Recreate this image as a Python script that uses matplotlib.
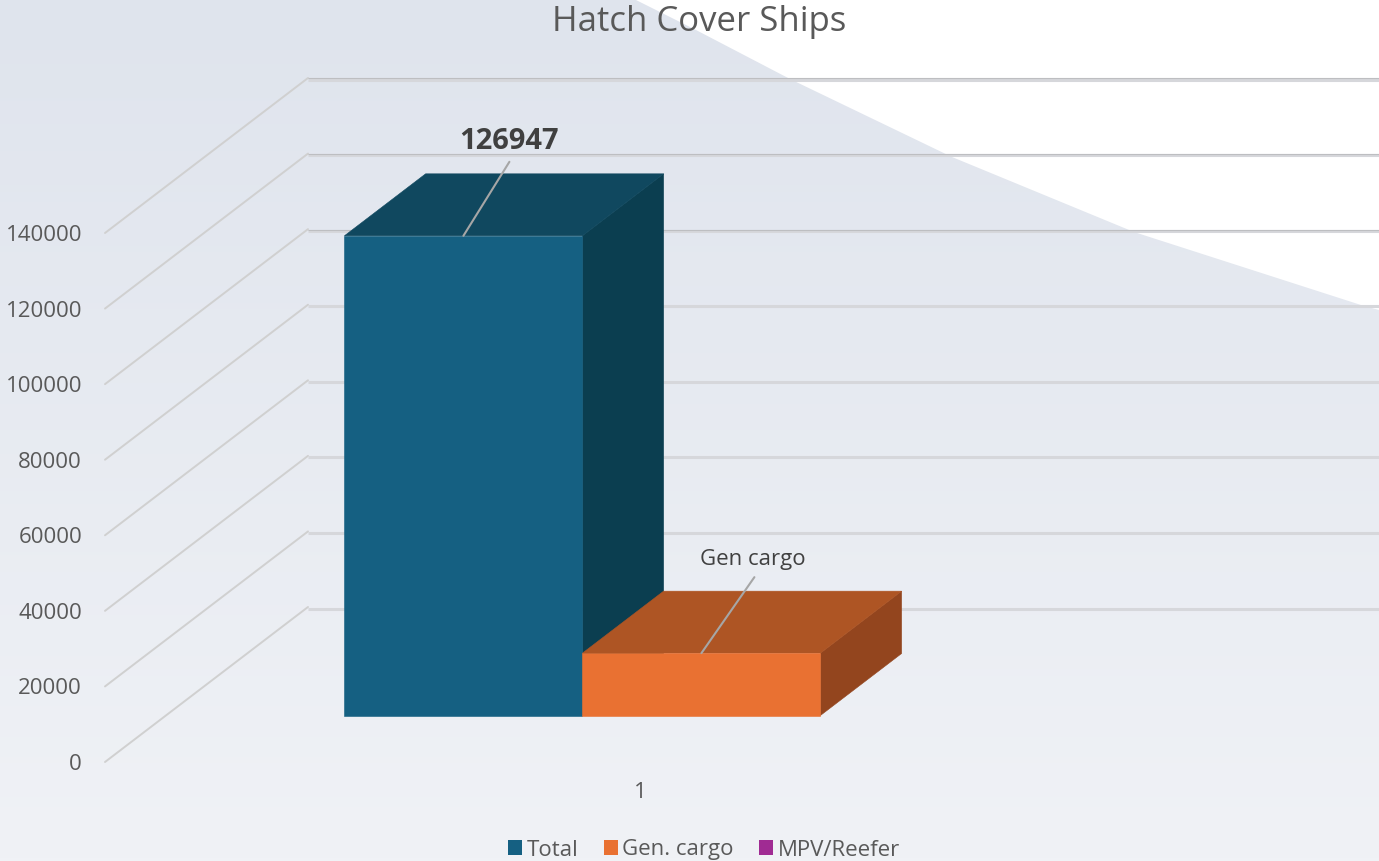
import numpy as np
import matplotlib
matplotlib.use("Agg")
import matplotlib.pyplot as plt
from matplotlib.patches import Polygon, Patch

title = "Hatch Cover Ships"
categories = [1]
series_names = ["Total", "Gen. cargo", "MPV/Reefer"]
series_values = [126947, 16500, None]
front_colors = ["#156082", "#E97132", "#A02B93"]
top_colors = ["#10485F", "#AE5524", "#78206E"]
side_colors = ["#0B3E50", "#93451E", "#601A58"]
data_labels = ["126947", "Gen cargo", None]
label_bold = [True, False, False]
value_ticks = [0, 20000, 40000, 60000, 80000, 100000, 120000, 140000]

W, H = 1379, 861
plt.rcParams["font.family"] = ["Open Sans", "DejaVu Sans"]
TXT = "#595959"

fig = plt.figure(figsize=(W / 100, H / 100), dpi=100, facecolor="white")

# decorative background
bg = fig.add_axes([0, 0, 1, 1], zorder=0)
bg.set_xlim(0, 1); bg.set_ylim(0, 1); bg.axis("off")
grad = np.linspace(0, 1, 256).reshape(-1, 1)
cmap = matplotlib.colors.LinearSegmentedColormap.from_list("g", ["#DFE4ED", "#F0F2F6"])
bg.imshow(grad, extent=(0, 1, 0, 1), aspect="auto", cmap=cmap, origin="upper", vmin=0, vmax=1)
edge = [(636, 0), (696, 30), (790, 79), (952, 157), (1134, 232), (1361, 305), (1379, 310), (1379, 0)]
bg.add_patch(Polygon([(x / W, 1 - y / H) for x, y in edge], fc="white", ec="none"))

# chart axes: front plane of a simulated 3D column chart
ax = fig.add_axes([0, 0, 1, 1], zorder=1)
ax.patch.set_visible(False)
px_x = 1 / 1071.0               # category units per pixel
px_y = 140000 / 529.0           # value units per pixel
x0 = 0.5 - 105 * px_x
ax.set_xlim(x0, x0 + W * px_x)
ax.set_ylim(-(H - 762) * px_y, 762 * px_y)
DX, DY = 203 * px_x, 155 * px_y  # full floor depth expressed in data units

def proj(x, v, d):
    return x + d * DX, v + d * DY

xr = ax.get_xlim()[1]
for t in value_ticks:
    x1, y1 = proj(0.5, t, 1)
    ax.plot([0.5, x1], [t, y1], color="#D0D0D0", lw=1.4, zorder=2, solid_capstyle="round")
    ax.plot([x1, xr], [y1 - 1.5 * px_y, y1 - 1.5 * px_y], color="#D6D7DB", lw=2.2, zorder=2, solid_capstyle="butt")
    if t >= 100000:
        ax.plot([x1, xr], [y1 - 0.4 * px_y, y1 - 0.4 * px_y], color="#BDBEC1", lw=0.8, zorder=2, solid_capstyle="butt")

n_slots = len(series_names)
bw = 1 / (n_slots + 1.5)
start = 1 - n_slots * bw / 2
d0, d1 = 0.30, 0.70
for i, (v, fc, tc, sc) in enumerate(zip(series_values, front_colors, top_colors, side_colors)):
    if v is None:
        continue
    xa = start + i * bw
    xb = xa + bw
    z = 3 + i
    # side, top, front
    ax.add_patch(Polygon([proj(xb, 0, d0), proj(xb, 0, d1), proj(xb, v, d1), proj(xb, v, d0)],
                         fc=sc, ec=sc, lw=0.4, zorder=z))
    ax.add_patch(Polygon([proj(xa, v, d0), proj(xb, v, d0), proj(xb, v, d1), proj(xa, v, d1)],
                         fc=tc, ec=tc, lw=0.4, zorder=z))
    fx, fy = proj(xa, 0, d0)
    ax.bar(fx, v, width=bw, bottom=fy, align="edge", color=fc, ec=fc, lw=0.4, zorder=z + 0.5)
    # data label with leader line
    cx, cy = proj(xa + bw / 2, v, d0)
    tip = (cx + 46 * px_x, cy + 74 * px_y) if label_bold[i] else (cx + 53 * px_x, cy + 76 * px_y)
    ax.annotate("", xy=(cx, cy), xytext=tip,
                arrowprops=dict(arrowstyle="-", color="#A6A6A6", lw=1.5, shrinkA=0, shrinkB=0), zorder=z + 1)
    if label_bold[i]:
        ax.text(cx + 46 * px_x, cy + 94 * px_y, data_labels[i], ha="center", va="center",
                fontsize=21, fontweight="bold", color="#404040", zorder=z + 2)
    else:
        ax.text(cx + 51 * px_x, cy + 94 * px_y, data_labels[i], ha="center", va="center",
                fontsize=16, color="#404040", zorder=z + 2)

# axes ticks
for s in ax.spines.values():
    s.set_visible(False)
ax.spines["left"].set_position(("data", 0.5))
ax.spines["bottom"].set_position(("data", 0))
ax.set_yticks(value_ticks, [str(t) for t in value_ticks])
ax.set_xticks(categories, [str(c) for c in categories])
ax.tick_params(axis="y", length=0, pad=16.5, labelsize=16, labelcolor=TXT)
ax.tick_params(axis="x", length=0, pad=14.5, labelsize=16, labelcolor=TXT)

ax.text(699.5 * px_x + x0, (762 - 22) * px_y, title, ha="center", va="center", fontsize=25, color=TXT, zorder=10)

handles = [Patch(fc=c, ec="none") for c in front_colors]
leg = fig.legend(handles, series_names, loc="center", bbox_to_anchor=(704 / W, 1 - 850 / H), ncol=3,
                 frameon=False, fontsize=16, labelcolor=TXT, handlelength=0.63, handleheight=0.63,
                 handletextpad=0.22, columnspacing=1.12, borderpad=0, borderaxespad=0)

fig.savefig("out.png", dpi=100)
